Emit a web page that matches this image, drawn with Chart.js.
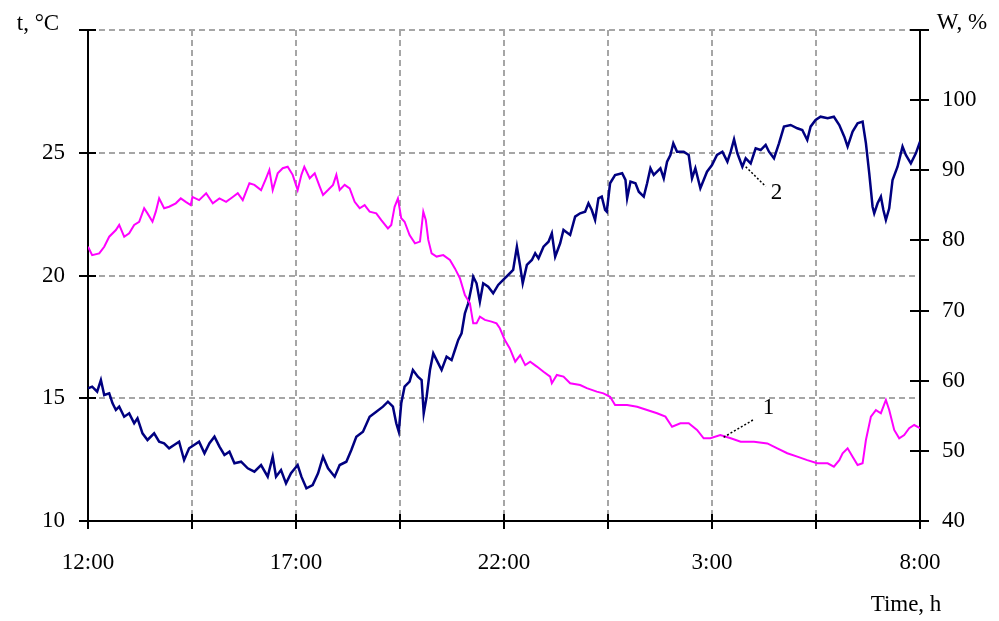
<!DOCTYPE html>
<html>
<head>
<meta charset="utf-8">
<script src="https://cdn.jsdelivr.net/npm/chart.js@4/dist/chart.umd.min.js"></script>
<style>
  html, body { margin: 0; padding: 0; background: #fff; }
  #wrap { width: 999px; height: 621px; }
</style>
</head>
<body>
<div id="wrap"><canvas id="grafico" width="999" height="621"></canvas></div>
<script>
// time axis: hours since 12:00
const timeLabels = ['12:00', '17:00', '22:00', '3:00', '8:00'];

// curve 1: temperature, °C
const tempHours = [
  0, 0.10, 0.27, 0.39, 0.51, 0.67, 0.75, 0.87, 0.99, 1.11,
  1.23, 1.35, 1.43, 1.55, 1.63, 1.71, 1.83, 1.95, 2.11, 2.23,
  2.35, 2.47, 2.51, 2.67, 2.84, 3.00, 3.16, 3.32, 3.48, 3.60,
  3.72, 3.88, 4.00, 4.16, 4.28, 4.36, 4.44, 4.56, 4.68, 4.80,
  4.92, 5.04, 5.13, 5.20, 5.33, 5.45, 5.57, 5.65, 5.77, 5.89,
  5.97, 6.05, 6.17, 6.29, 6.41, 6.53, 6.65, 6.77, 6.93, 7.05,
  7.21, 7.29, 7.37, 7.45, 7.53, 7.61, 7.73, 7.86, 7.98, 8.06,
  8.12, 8.18, 8.26, 8.38, 8.54, 8.70, 8.82, 8.94, 9.06, 9.18,
  9.26, 9.34, 9.42, 9.54, 9.70, 9.82, 9.90, 10.02, 10.14, 10.27,
  10.39, 10.51, 10.63, 10.79, 10.95, 11.11, 11.15, 11.27, 11.43, 11.59,
  11.83, 11.99, 12.23, 12.39, 12.55, 12.67, 12.96, 13.20, 13.44, 13.68,
  13.88, 14.04, 14.24, 14.44, 14.64, 14.80, 14.96, 15.20, 15.45, 15.69,
  16.01, 16.33, 16.57, 16.81, 17.05, 17.29, 17.53, 17.78, 17.93, 18.06,
  18.14, 18.26, 18.38, 18.50, 18.62, 18.70, 18.82, 18.94, 19.06, 19.18,
  19.26, 19.38, 19.50, 19.62, 19.74, 19.86, 20.00
];
const tempValues = [
  21.17, 20.83, 20.9, 21.17, 21.58, 21.85, 22.06, 21.58, 21.72, 22.06,
  22.19, 22.74, 22.53, 22.19, 22.6, 23.14, 22.74, 22.8, 22.94, 23.14,
  23.0, 22.87, 23.2, 23.07, 23.35, 22.94, 23.14, 23.0, 23.2, 23.35,
  23.07, 23.76, 23.69, 23.48, 23.96, 24.3, 23.48, 24.16, 24.37, 24.43,
  24.1, 23.48, 24.1, 24.43, 23.96, 24.16, 23.62, 23.28, 23.48, 23.69,
  24.1, 23.48, 23.69, 23.55, 23.0, 22.74, 22.87, 22.6, 22.53, 22.26,
  21.92, 22.06, 22.8, 23.14, 22.33, 22.19, 21.65, 21.31, 21.38, 22.6,
  22.26, 21.45, 20.9, 20.77, 20.83, 20.63, 20.29, 19.89, 19.2, 18.87,
  18.05, 18.05, 18.32, 18.19, 18.12, 18.05, 17.85, 17.37, 17.03, 16.49,
  16.76, 16.35, 16.49, 16.29, 16.08, 15.88, 15.61, 15.95, 15.88, 15.61,
  15.54, 15.41, 15.27, 15.2, 15.06, 14.72, 14.72, 14.65, 14.52, 14.39,
  14.25, 13.84, 13.98, 13.98, 13.71, 13.37, 13.37, 13.5, 13.37, 13.23,
  13.23, 13.16, 12.96, 12.76, 12.62, 12.48, 12.35, 12.35, 12.21, 12.48,
  12.76, 12.96, 12.62, 12.28, 12.35, 13.3, 14.25, 14.52, 14.39, 14.93,
  14.52, 13.71, 13.37, 13.5, 13.78, 13.91, 13.78
];

// curve 2: humidity, %
const humHours = [
  0, 0.10, 0.22, 0.31, 0.39, 0.51, 0.59, 0.67, 0.75, 0.87,
  0.99, 1.11, 1.19, 1.31, 1.43, 1.59, 1.71, 1.83, 1.95, 2.07,
  2.19, 2.31, 2.43, 2.55, 2.67, 2.80, 2.92, 3.04, 3.16, 3.28,
  3.40, 3.52, 3.68, 3.84, 4.00, 4.16, 4.32, 4.44, 4.52, 4.64,
  4.76, 4.88, 5.04, 5.13, 5.25, 5.40, 5.53, 5.65, 5.77, 5.93,
  6.05, 6.21, 6.33, 6.45, 6.61, 6.77, 6.93, 7.09, 7.21, 7.33,
  7.41, 7.47, 7.53, 7.61, 7.73, 7.81, 7.93, 8.02, 8.07, 8.14,
  8.22, 8.30, 8.42, 8.50, 8.62, 8.74, 8.82, 8.90, 8.98, 9.06,
  9.14, 9.22, 9.26, 9.34, 9.42, 9.50, 9.62, 9.74, 9.86, 9.98,
  10.10, 10.22, 10.31, 10.39, 10.45, 10.55, 10.67, 10.75, 10.83, 10.95,
  11.07, 11.15, 11.23, 11.35, 11.43, 11.59, 11.71, 11.83, 11.95, 12.03,
  12.11, 12.19, 12.27, 12.35, 12.43, 12.47, 12.55, 12.67, 12.84, 12.92,
  12.96, 13.04, 13.16, 13.24, 13.36, 13.44, 13.52, 13.60, 13.68, 13.76,
  13.84, 13.92, 14.00, 14.07, 14.16, 14.32, 14.44, 14.52, 14.60, 14.72,
  14.88, 15.00, 15.12, 15.25, 15.37, 15.45, 15.53, 15.61, 15.73, 15.81,
  15.93, 16.05, 16.17, 16.29, 16.37, 16.49, 16.61, 16.73, 16.89, 17.05,
  17.17, 17.29, 17.37, 17.49, 17.61, 17.78, 17.93, 18.06, 18.18, 18.26,
  18.38, 18.50, 18.62, 18.70, 18.78, 18.86, 18.90, 18.98, 19.06, 19.12,
  19.18, 19.26, 19.34, 19.46, 19.58, 19.66, 19.78, 19.90, 20.00
];
const humValues = [
  58.92, 59.15, 58.44, 60.1, 57.96, 58.2, 56.78, 55.83, 56.3, 54.87,
  55.35, 53.93, 54.64, 52.5, 51.55, 52.5, 51.31, 51.08, 50.36, 50.84,
  51.31, 48.7, 50.36, 50.84, 51.31, 49.65, 51.08, 52.02, 50.6, 49.41,
  49.88, 48.23, 48.45, 47.51, 47.03, 47.98, 46.32, 49.17, 46.32, 47.27,
  45.37, 46.8, 47.98, 46.32, 44.66, 45.13, 46.8, 49.17, 47.51, 46.32,
  47.98, 48.45, 50.12, 52.02, 52.73, 54.87, 55.58, 56.3, 57.01, 56.3,
  53.93, 52.73, 56.78, 59.15, 59.86, 61.53, 60.57, 60.1, 55.35, 57.72,
  61.53, 63.9, 62.48, 61.53, 63.43, 62.95, 64.38, 65.81, 66.76, 69.61,
  71.04, 73.4, 74.83, 73.89, 71.27, 73.89, 73.4, 72.46, 73.65, 74.36,
  75.07, 75.79, 79.11, 76.26, 73.89, 76.5, 77.21, 78.17, 77.45, 79.11,
  79.82, 81.02, 77.68, 79.59, 81.49, 80.78, 83.39, 83.87, 84.1, 85.3,
  84.34, 82.91, 86.0, 86.24, 84.34, 84.1, 88.15, 89.33, 89.57, 88.62,
  86.0, 88.38, 88.15, 86.95, 86.24, 88.15, 90.28, 89.33, 89.8, 90.28,
  88.86, 91.23, 92.18, 93.85, 92.65, 92.65, 92.18, 88.86, 90.28, 87.43,
  89.8, 90.75, 92.18, 92.65, 91.23, 92.65, 94.41, 92.42, 90.51, 91.71,
  90.99, 93.13, 92.89, 93.61, 92.65, 91.71, 93.85, 96.22, 96.46, 95.99,
  95.75, 94.32, 96.22, 97.17, 97.64, 97.41, 97.64, 96.46, 94.79, 93.37,
  95.51, 96.7, 96.93, 93.85, 89.57, 84.81, 83.87, 85.3, 86.24, 84.34,
  82.91, 84.58, 88.62, 90.51, 93.37, 92.18, 90.99, 92.42, 94.08
];

// curve labels "1" and "2" with their leader lines (data coordinates)
const curveLabels = [
  { text: '1', axis: 'yT', from: [15.28, 13.41], to: [16.01, 14.14], at: [16.36, 14.6] },
  { text: '2', axis: 'yW', from: [15.81, 90.51], to: [16.29, 87.7], at: [16.55, 86.76] }
];

const fonte = '23px "Liberation Serif", "Times New Roman", serif';
const cinza = '#a6a6a6';

function pares(xs, ys) {
    return xs.map((x, i) => ({ x: x, y: ys[i] }));
}

// sem folga extra em cima/embaixo dos eixos y
function larguraY(w) {
    return s => { s.width = w; s.paddingTop = 0; s.paddingBottom = 0; };
}

// desenha os tracinhos dos eixos, os titulos e as legendas 1 / 2
const extras = {
    id: 'extras',
    afterDraw(chart) {
        const ctx = chart.ctx;
        const a = chart.chartArea;
        const sx = chart.scales.x, sT = chart.scales.yT, sW = chart.scales.yW;
        ctx.save();
        ctx.strokeStyle = '#000';
        ctx.lineWidth = 2;
        ctx.beginPath();
        sx.ticks.forEach(t => {
            const px = Math.round(sx.getPixelForValue(t.value));
            ctx.moveTo(px, a.bottom - 7); ctx.lineTo(px, a.bottom + 8);
        });
        sT.ticks.forEach(t => {
            const py = Math.round(sT.getPixelForValue(t.value));
            ctx.moveTo(a.left - 9, py); ctx.lineTo(a.left + 8, py);
        });
        sW.ticks.forEach(t => {
            const py = Math.round(sW.getPixelForValue(t.value));
            ctx.moveTo(a.right - 10, py); ctx.lineTo(a.right + 9, py);
        });
        ctx.stroke();

        ctx.fillStyle = '#000';
        ctx.font = fonte;
        ctx.textAlign = 'center';
        ctx.textBaseline = 'middle';
        ctx.fillText('t, °C', 38, 24);
        ctx.fillText('W, %', 962, 23);
        ctx.fillText('Time, h', 906, 605);

        curveLabels.forEach(l => {
            const sy = chart.scales[l.axis];
            ctx.lineWidth = 1.5;
            ctx.setLineDash([2, 2]);
            ctx.beginPath();
            ctx.moveTo(sx.getPixelForValue(l.from[0]), sy.getPixelForValue(l.from[1]));
            ctx.lineTo(sx.getPixelForValue(l.to[0]), sy.getPixelForValue(l.to[1]));
            ctx.stroke();
            ctx.setLineDash([]);
            ctx.fillText(l.text, sx.getPixelForValue(l.at[0]), sy.getPixelForValue(l.at[1]));
        });
        ctx.restore();
    }
};

window.onload = function () {
    const ctx = document.getElementById('grafico').getContext('2d');
    new Chart(ctx, {
        type: 'line',
        data: {
            datasets: [{
                label: '1',
                data: pares(tempHours, tempValues),
                yAxisID: 'yT',
                borderColor: '#ff00ff',
                borderWidth: 2,
                pointRadius: 0,
                tension: 0
            }, {
                label: '2',
                data: pares(humHours, humValues),
                yAxisID: 'yW',
                borderColor: '#000080',
                borderWidth: 2.5,
                pointRadius: 0,
                tension: 0
            }]
        },
        options: {
            responsive: false,
            animation: false,
            devicePixelRatio: 1,
            layout: { padding: { top: 30, left: 0, right: 0, bottom: 0 } },
            plugins: { legend: { display: false }, tooltip: { enabled: false } },
            scales: {
                x: {
                    type: 'linear',
                    min: 0, max: 20,
                    afterFit: s => { s.height = 100; },
                    border: { display: true, color: '#000', width: 2, dash: [6, 4] },
                    grid: {
                        drawTicks: false,
                        lineWidth: 2,
                        color: c => (c.tick.value === 0 || c.tick.value === 20) ? 'rgba(0,0,0,0)' : cinza
                    },
                    ticks: {
                        stepSize: 2.5,
                        autoSkip: false,
                        maxRotation: 0,
                        padding: 28,
                        color: '#000',
                        font: { family: '"Liberation Serif", "Times New Roman", serif', size: 23 },
                        callback: v => (v % 5 === 0) ? timeLabels[v / 5] : ''
                    }
                },
                yT: {
                    position: 'left',
                    min: 10, max: 30,
                    afterFit: larguraY(88),
                    border: { display: true, color: '#000', width: 2, dash: [6, 4] },
                    grid: {
                        drawTicks: false,
                        lineWidth: 2,
                        color: c => c.tick.value === 10 ? 'rgba(0,0,0,0)' : cinza
                    },
                    ticks: {
                        stepSize: 5,
                        padding: 23,
                        color: '#000',
                        font: { family: '"Liberation Serif", "Times New Roman", serif', size: 23 },
                        callback: v => v === 30 ? '' : v
                    }
                },
                yW: {
                    position: 'right',
                    min: 40, max: 110,
                    afterFit: larguraY(79),
                    border: { display: true, color: '#000', width: 2 },
                    grid: { drawOnChartArea: false, drawTicks: false },
                    ticks: {
                        stepSize: 10,
                        padding: 22,
                        color: '#000',
                        font: { family: '"Liberation Serif", "Times New Roman", serif', size: 23 },
                        callback: v => v === 110 ? '' : v
                    }
                }
            }
        },
        plugins: [extras]
    });
};
</script>
</body>
</html>
